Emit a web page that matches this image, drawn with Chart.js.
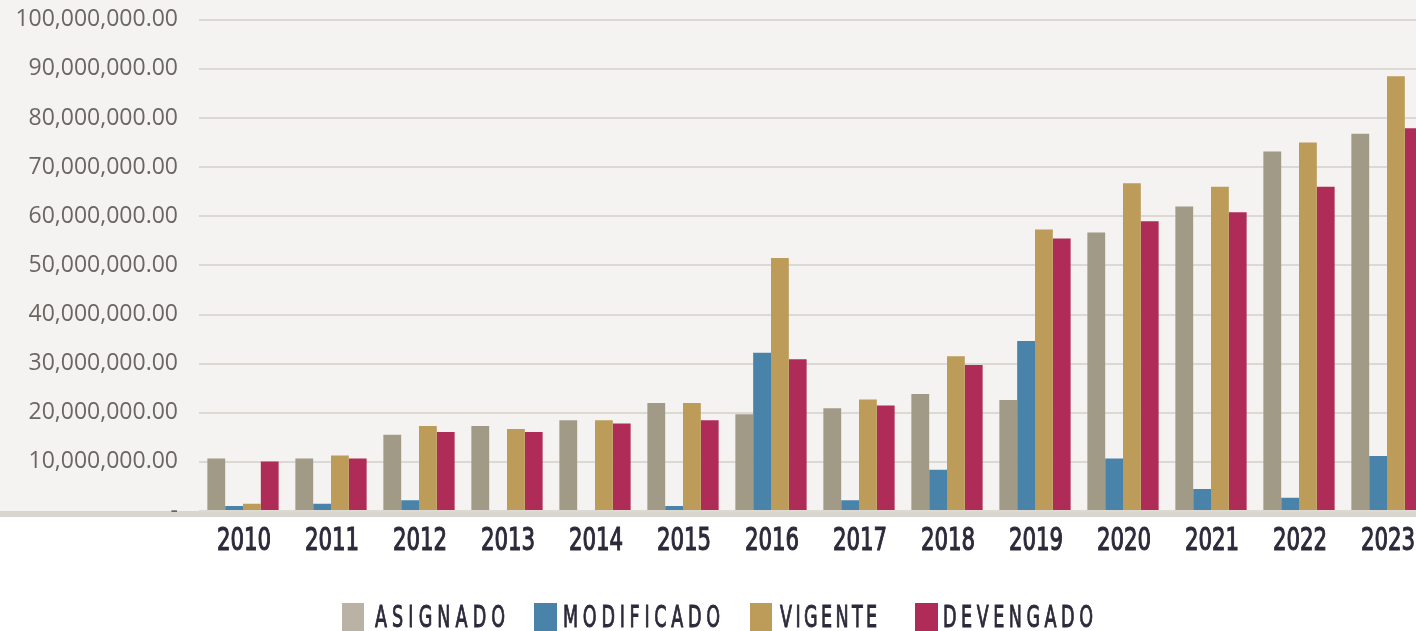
<!DOCTYPE html>
<html>
<head>
<meta charset="utf-8">
<script src="https://cdn.jsdelivr.net/npm/chart.js@4/dist/chart.umd.min.js"></script>
<style>
  html, body { margin: 0; padding: 0; background: #fff; overflow: hidden; }
  #wrap { position: relative; width: 1416px; height: 631px; overflow: hidden; }
  #chart { position: absolute; left: 0; top: -15px; }
  .sw { position: absolute; top: 603px; height: 28px; }
  .tx {
    position: absolute; top: 602px; white-space: nowrap;
    font-family: "DejaVu Sans Condensed", "DejaVu Sans", sans-serif;
    font-size: 30px; color: #2c2a3a; line-height: 30px;
    -webkit-text-stroke: 0.9px #2c2a3a;
    transform: scaleX(0.65); transform-origin: 0 0;
  }
</style>
</head>
<body>
<div id="wrap">
  <canvas id="chart" width="1431" height="646"></canvas>
  <div id="legend"></div>
</div>
<script>
// datos (millones)
const years = ['2010', '2011', '2012', '2013', '2014', '2015', '2016', '2017', '2018', '2019', '2020', '2021', '2022', '2023'];
const asignado   = [10.7, 10.7, 15.5, 17.3, 18.5, 22.0, 19.7, 20.9, 23.8, 22.6, 56.7, 62.0, 73.2, 76.8];
const modificado = [1.0, 1.5, 2.2, 0, 0, 1.0, 32.2, 2.2, 8.4, 34.6, 10.7, 4.5, 2.7, 11.2];
const vigente    = [1.5, 11.3, 17.3, 16.7, 18.5, 22.0, 51.5, 22.7, 31.5, 57.3, 66.7, 66.0, 75.0, 88.5];
const devengado  = [10.1, 10.7, 16.1, 16.1, 17.8, 18.5, 30.9, 21.5, 29.7, 55.5, 59.0, 60.8, 66.0, 77.9];
const yTicks = [0, 10, 20, 30, 40, 50, 60, 70, 80, 90, 100];

const M = 1000000;
const toMoney = arr => arr.map(v => v * M);

const series = [
    { label: 'ASIGNADO',   data: asignado,   color: '#a19a87', swatch: '#bab2a5' },
    { label: 'MODIFICADO', data: modificado, color: '#4a83a9', swatch: '#4a83a9' },
    { label: 'VIGENTE',    data: vigente,    color: '#bd9c59', swatch: '#bd9c59' },
    { label: 'DEVENGADO',  data: devengado,  color: '#b02c58', swatch: '#b02c58' }
];

// fondo gris claro y franja de la base
const backdrop = {
    id: 'backdrop',
    beforeDraw(chart) {
        const { ctx, chartArea, width } = chart;
        ctx.save();
        ctx.fillStyle = '#f4f3f1';
        ctx.fillRect(0, 0, width, chartArea.bottom + 6);
        ctx.fillStyle = '#d9d5cf';
        ctx.fillRect(0, chartArea.bottom, width, 6);
        ctx.restore();
    }
};

// etiquetas de años en letra estrecha (comprimidas en horizontal)
const narrowYears = {
    id: 'narrowYears',
    afterDraw(chart) {
        const { ctx, chartArea } = chart;
        const xs = chart.scales.x;
        ctx.save();
        ctx.fillStyle = '#2c2a3a';
        ctx.strokeStyle = '#2c2a3a';
        ctx.lineWidth = 1.1;
        ctx.font = '32px "DejaVu Sans Condensed"';
        ctx.textAlign = 'center';
        ctx.textBaseline = 'alphabetic';
        chart.data.labels.forEach((lab, i) => {
            ctx.save();
            ctx.translate(xs.getPixelForTick(i) + 1, chartArea.bottom + 39);
            ctx.scale(0.74, 1);
            ctx.fillText(lab, 0, 0);
            ctx.strokeText(lab, 0, 0);
            ctx.restore();
        });
        ctx.restore();
    }
};

new Chart(document.getElementById('chart'), {
    type: 'bar',
    data: {
        labels: years,
        datasets: series.map(s => ({
            label: s.label,
            data: toMoney(s.data),
            backgroundColor: s.color,
            borderWidth: 0,
            categoryPercentage: 0.81,
            barPercentage: 1.0
        }))
    },
    options: {
        responsive: false,
        animation: false,
        layout: { padding: { top: 5, right: 0, left: 0, bottom: 0 } },
        plugins: { legend: { display: false }, tooltip: { enabled: false } },
        scales: {
            x: {
                grid: { display: false, drawTicks: false },
                border: { display: false },
                ticks: { display: false },
                afterFit: s => { s.height = 120; }
            },
            y: {
                min: 0,
                max: 100 * M,
                afterBuildTicks: s => { s.ticks = yTicks.map(v => ({ value: v * M })); },
                grid: { color: '#dcd9d3', lineWidth: 2, drawTicks: false },
                border: { display: false },
                ticks: {
                    padding: 21,
                    color: '#6a6762',
                    font: { family: 'Open Sans', size: 23 },
                    callback: v => v === 0 ? '-' : v.toLocaleString('en-US', { minimumFractionDigits: 2, maximumFractionDigits: 2 })
                },
                afterFit: s => { s.width = 199; }
            }
        }
    },
    plugins: [backdrop, narrowYears]
});

// leyenda inferior: [x muestra, ancho muestra, x texto, ancho texto]
const legendPos = [[342, 22, 375, 130], [534, 23, 563, 157], [750, 22, 780, 97], [915, 23, 943, 150]];
const squeeze = 0.65;
const legend = document.getElementById('legend');
series.forEach((s, i) => {
    const [sx, sw, tx, tw] = legendPos[i];
    const box = document.createElement('div');
    box.className = 'sw';
    box.style.cssText = `left:${sx}px;width:${sw}px;background:${s.swatch}`;
    const txt = document.createElement('div');
    txt.className = 'tx';
    txt.style.left = tx + 'px';
    txt.textContent = s.label;
    legend.appendChild(box);
    legend.appendChild(txt);
    const natural = txt.offsetWidth;
    const n = s.label.length - 1;
    txt.style.letterSpacing = ((tw / squeeze - natural) / n) + 'px';
});
</script>
</body>
</html>
